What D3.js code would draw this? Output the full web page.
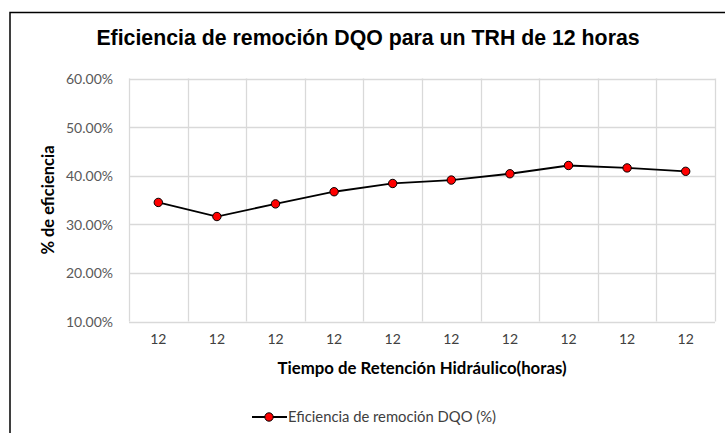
<!DOCTYPE html>
<html>
<head>
<meta charset="utf-8">
<script src="https://cdn.jsdelivr.net/npm/d3@7"></script>
<style>
  body { margin: 0; background: #fff; }
  svg { display: block; }
</style>
</head>
<body>
<div id="chart"></div>
<script>
// data
const categories = ['12', '12', '12', '12', '12', '12', '12', '12', '12', '12'];
const efficiency = [0.345, 0.316, 0.342, 0.367, 0.384, 0.391, 0.404, 0.421, 0.416, 0.409];
const yTicks = [0.1, 0.2, 0.3, 0.4, 0.5, 0.6];
const seriesName = 'Eficiencia de remoción DQO (%)';

const width = 725;
const height = 433;
const plot = { left: 129, top: 78.5, right: 715, bottom: 321.5 };

const svg = d3.select('#chart').append('svg')
  .attr('width', width)
  .attr('height', height);

// chart frame (only left and top edges visible in the crop)
svg.append('rect')
  .attr('x', 10).attr('y', 12.5)
  .attr('width', 760).attr('height', 460)
  .style('fill', '#fff')
  .style('stroke', '#000')
  .style('stroke-width', 1.5);

svg.append('text')
  .attr('x', 368)
  .attr('y', 45)
  .attr('text-anchor', 'middle')
  .style('font-family', '"Liberation Sans", Arial, sans-serif')
  .style('font-weight', 'bold')
  .style('font-size', '21.3px')
  .style('fill', '#000')
  .text('Eficiencia de remoción DQO para un TRH de 12 horas');

const x = d3.scaleBand()
  .domain(d3.range(categories.length))
  .range([plot.left, plot.right])
  .padding(0);

const y = d3.scaleLinear()
  .domain([0.1, 0.6])
  .range([plot.bottom, plot.top]);

const grid = svg.append('g').attr('class', 'grid');
grid.selectAll('line.h')
  .data(yTicks).enter().append('line')
  .attr('class', 'h')
  .attr('x1', plot.left).attr('x2', plot.right)
  .attr('y1', d => Math.round(y(d)) + 0.5).attr('y2', d => Math.round(y(d)) + 0.5)
  .style('stroke', '#d9d9d9')
  .style('stroke-width', 1.3);

const vLines = d3.range(categories.length + 1).map(i => (i < categories.length ? x(i) : x(i - 1) + x.bandwidth()));
grid.selectAll('line.v')
  .data(vLines).enter().append('line')
  .attr('class', 'v')
  .attr('x1', d => Math.round(d) + 0.5).attr('x2', d => Math.round(d) + 0.5)
  .attr('y1', plot.top).attr('y2', plot.bottom)
  .style('stroke', '#d9d9d9')
  .style('stroke-width', 1.3);

// y axis labels
const yAxis = svg.append('g')
  .attr('transform', `translate(${plot.left - 16},0)`)
  .call(d3.axisLeft(y).tickValues(yTicks).tickFormat(d3.format('.2%')).tickSize(0).tickPadding(0));
yAxis.select('.domain').remove();
yAxis.selectAll('text')
  .attr('dy', '0.35em')
  .style('font-family', 'Lato, "Open Sans", sans-serif')
  .style('font-size', '14px')
  .style('fill', '#595959');

// x axis labels
const xAxis = svg.append('g')
  .attr('transform', `translate(0,${plot.bottom + 13})`)
  .call(d3.axisBottom(x).tickFormat(i => categories[i]).tickSize(0).tickPadding(0));
xAxis.select('.domain').remove();
xAxis.selectAll('text')
  .attr('dy', '0.71em')
  .style('font-family', 'Lato, "Open Sans", sans-serif')
  .style('font-size', '14px')
  .style('fill', '#404040');

svg.append('text')
  .attr('x', (plot.left + plot.right) / 2)
  .attr('y', 374)
  .attr('text-anchor', 'middle')
  .style('font-family', 'Lato, "Open Sans", sans-serif')
  .style('font-weight', 'bold')
  .style('font-size', '16.8px')
  .style('fill', '#000')
  .text('Tiempo de Retención Hidráulico(horas)');

svg.append('text')
  .attr('transform', `translate(54,${(plot.top + plot.bottom) / 2}) rotate(-90)`)
  .attr('text-anchor', 'middle')
  .style('font-family', 'Lato, "Open Sans", sans-serif')
  .style('font-weight', 'bold')
  .style('font-size', '16.5px')
  .style('fill', '#000')
  .text('% de eficiencia');

// series
const line = d3.line()
  .x((d, i) => x(i) + x.bandwidth() / 2)
  .y(d => y(d));

svg.append('path')
  .datum(efficiency)
  .attr('d', line)
  .style('fill', 'none')
  .style('stroke', '#000')
  .style('stroke-width', 1.8);

svg.selectAll('circle.pt')
  .data(efficiency).enter().append('circle')
  .attr('class', 'pt')
  .attr('cx', (d, i) => x(i) + x.bandwidth() / 2)
  .attr('cy', d => y(d))
  .attr('r', 4.2)
  .style('fill', '#ff0000')
  .style('stroke', '#000')
  .style('stroke-width', 1);

// legend
const legend = svg.append('g').attr('transform', 'translate(252,417)');
legend.append('line')
  .attr('x1', 0).attr('x2', 35)
  .attr('y1', 0).attr('y2', 0)
  .style('stroke', '#000')
  .style('stroke-width', 1.8);
legend.append('circle')
  .attr('cx', 17).attr('cy', 0).attr('r', 4.2)
  .style('fill', '#ff0000')
  .style('stroke', '#000')
  .style('stroke-width', 1);
legend.append('text')
  .attr('x', 36)
  .attr('y', 0)
  .attr('dy', '0.35em')
  .style('font-family', 'Lato, "Open Sans", sans-serif')
  .style('font-size', '14.8px')
  .style('fill', '#404040')
  .text(seriesName);
</script>
</body>
</html>
